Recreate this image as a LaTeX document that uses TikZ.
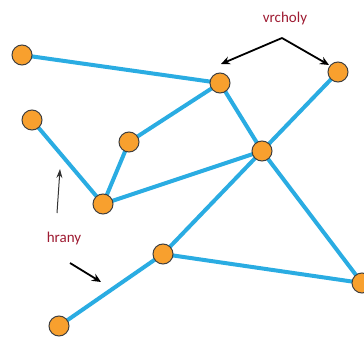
\documentclass[tikz,border=0pt]{standalone}
\usepackage{fontspec}
\setmainfont{Carlito}
\usetikzlibrary{arrows.meta}
\definecolor{edgeblue}{HTML}{2AACE2}
\definecolor{vertexfill}{HTML}{F8A02E}
\definecolor{labelred}{HTML}{9E1B32}
\tikzset{
  vertex/.style={circle, fill=vertexfill, draw=black!75, line width=1pt, minimum size=20pt, inner sep=0pt},
  edge/.style={draw=edgeblue, line width=4pt},
  pointer/.style={draw=black, line width=1.8pt, -{Stealth[length=9pt, width=8pt]}},
  thinpointer/.style={draw=black!80, line width=1pt, -{Stealth[length=9pt, width=6pt]}},
  caption/.style={text=labelred, font=\fontsize{15}{18}\selectfont, inner sep=0pt}
}
\begin{document}
\begin{tikzpicture}[x=1pt, y=-1pt]
  \useasboundingbox (0,0) rectangle (364,337);
  % vertices positions
  \coordinate (pa) at (22,55);
  \coordinate (pb) at (220,83);
  \coordinate (pc) at (338,72);
  \coordinate (pd) at (32,120);
  \coordinate (pe) at (129,142);
  \coordinate (pf) at (262,151);
  \coordinate (pg) at (103,204);
  \coordinate (ph) at (163,254);
  \coordinate (pi) at (362,283);
  \coordinate (pj) at (59,326);
  % edges
  \draw[edge] (pa) -- (pb);
  \draw[edge] (pb) -- (pe);
  \draw[edge] (pe) -- (pg);
  \draw[edge] (pd) -- (pg);
  \draw[edge] (pg) -- (pf);
  \draw[edge] (pb) -- (pf);
  \draw[edge] (pf) -- (pc);
  \draw[edge] (pf) -- (ph);
  \draw[edge] (pf) -- (pi);
  \draw[edge] (ph) -- (pi);
  \draw[edge] (ph) -- (pj);
  % vertices
  \foreach \v in {a,b,c,d,e,f,g,h,i,j}
    \node[vertex] (\v) at (p\v) {};
  % labels
  \node[caption] (vrch) at (285,19) {vrcholy};
  \coordinate (apex) at (282,38);
  \coordinate (tipl) at (221,64);
  \coordinate (tipr) at (329,65);
  \draw[pointer] (apex) -- (tipl);
  \draw[pointer] (apex) -- (tipr);
  \node[caption] (hr) at (64,238) {hrany};
  \coordinate (upstart) at (57,213);
  \coordinate (upend) at (60,169);
  \draw[thinpointer] (upstart) -- (upend);
  \coordinate (dnstart) at (70,263);
  \coordinate (dnend) at (101,282);
  \draw[pointer] (dnstart) -- (dnend);
\end{tikzpicture}
\end{document}
